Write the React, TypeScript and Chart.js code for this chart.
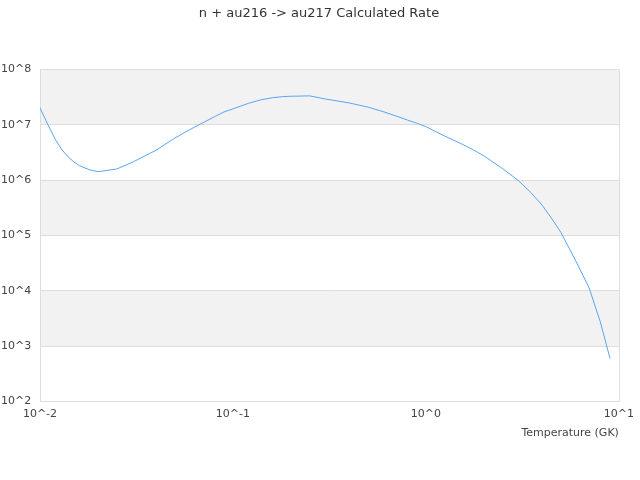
import React, { useEffect, useRef } from "react";
import { Chart, registerables } from "chart.js";

Chart.register(...registerables);

const chartTitle = "n + au216 -> au217 Calculated Rate";
const xAxisTitle = "Temperature (GK)";

const temperatures = [
  0.01, 0.011, 0.012, 0.013, 0.014, 0.015, 0.016, 0.018, 0.02, 0.025, 0.03, 0.04,
  0.05, 0.06, 0.07, 0.08, 0.09, 0.1, 0.12, 0.14, 0.16, 0.18, 0.2, 0.25, 0.3, 0.4,
  0.5, 0.6, 0.7, 0.8, 0.9, 1.0, 1.25, 1.5, 1.75, 2.0, 2.5, 3.0, 3.5, 4.0, 4.5, 5.0,
  6.0, 7.0, 8.0, 9.0,
];

const rates = [
  2.04e7, 1.0e7, 5.5e6, 3.55e6, 2.63e6, 2.14e6, 1.84e6, 1.55e6, 1.43e6, 1.6e6, 2.1e6, 3.5e6,
  5.8e6, 8.3e6, 1.1e7, 1.4e7, 1.72e7, 1.95e7, 2.45e7, 2.85e7, 3.1e7, 3.24e7, 3.3e7, 3.35e7, 2.95e7, 2.5e7,
  2.1e7, 1.74e7, 1.45e7, 1.23e7, 1.07e7, 9.3e6, 6.3e6, 4.7e6, 3.6e6, 2.75e6, 1.62e6, 1.0e6, 6.0e5, 3.55e5, 2.0e5, 1.15e5,
  3.4e4, 1.15e4, 2.8e3, 6.0e2,
];

const xTickValues = [0.01, 0.1, 1, 10];
const xTickLabels = ["10^-2", "10^-1", "10^0", "10^1"];
const yTickValues = [1e2, 1e3, 1e4, 1e5, 1e6, 1e7, 1e8];
const yTickLabels = ["10^2", "10^3", "10^4", "10^5", "10^6", "10^7", "10^8"];

const FONT = "'DejaVu Sans', sans-serif";

const bandsPlugin = {
  id: "bands",
  beforeDraw(chart: any) {
    const { ctx, chartArea, scales } = chart;
    const y = scales.y;
    ctx.save();
    for (let i = 0; i < yTickValues.length - 1; i++) {
      if (i % 2 === 1) {
        const top = y.getPixelForValue(yTickValues[i + 1]);
        const bottom = y.getPixelForValue(yTickValues[i]);
        ctx.fillStyle = "#f2f2f2";
        ctx.fillRect(chartArea.left, top, chartArea.right - chartArea.left, bottom - top);
      }
    }
    ctx.strokeStyle = "#dddddd";
    ctx.lineWidth = 1;
    ctx.beginPath();
    ctx.moveTo(Math.round(chartArea.right) + 0.5, chartArea.top);
    ctx.lineTo(Math.round(chartArea.right) + 0.5, chartArea.bottom);
    ctx.stroke();
    ctx.restore();
  },
  afterDraw(chart: any) {
    const { ctx } = chart;
    const tb = chart.titleBlock;
    const top = tb ? tb.top : 0;
    ctx.save();
    ctx.fillStyle = "#333333";
    ctx.font = `normal 13px ${FONT}`;
    ctx.textAlign = "center";
    ctx.textBaseline = "middle";
    ctx.fillText(chartTitle, chart.width / 2 - 1, top + 6 + 7.8);
    ctx.restore();
  },
};

export default function App() {
  const canvasRef = useRef<HTMLCanvasElement | null>(null);

  useEffect(() => {
    if (!canvasRef.current) return;
    const chart = new Chart(canvasRef.current, {
      type: "line",
      data: {
        datasets: [
          {
            label: "rate",
            data: temperatures.map((t, i) => ({ x: t, y: rates[i] })),
            borderColor: "rgb(90,165,240)",
            backgroundColor: "rgb(90,165,240)",
            borderWidth: 1,
            pointRadius: 0,
            tension: 0,
            fill: false,
          },
        ],
      },
      options: {
        animation: false,
        responsive: false,
        maintainAspectRatio: false,
        layout: { padding: { left: 1, right: 20, top: 0, bottom: 40 } },
        plugins: {
          legend: { display: false },
          tooltip: { enabled: false },
          title: {
            display: true,
            text: chartTitle,
            color: "rgba(0,0,0,0)",
            font: { family: FONT, size: 13, weight: "normal" },
            padding: { top: 6, bottom: 48 },
          },
        },
        scales: {
          x: {
            type: "logarithmic",
            min: 0.01,
            max: 10,
            afterBuildTicks: (s: any) => {
              s.ticks = xTickValues.map((v) => ({ value: v }));
            },
            ticks: {
              autoSkip: false,
              maxRotation: 0,
              padding: 6,
              color: "#444444",
              font: { family: FONT, size: 11 },
              callback: (v: any) => {
                const i = xTickValues.findIndex((t) => Math.abs(t - Number(v)) < 1e-9 * t);
                return i >= 0 ? xTickLabels[i] : "";
              },
            },
            grid: { display: false, drawTicks: false },
            border: { display: true, color: "#dddddd" },
            title: {
              display: true,
              text: xAxisTitle,
              align: "end",
              color: "#444444",
              font: { family: FONT, size: 11 },
              padding: { top: 0, bottom: 0 },
            },
          },
          y: {
            type: "logarithmic",
            min: 1e2,
            max: 1e8,
            afterBuildTicks: (s: any) => {
              s.ticks = yTickValues.map((v) => ({ value: v }));
            },
            afterFit: (s: any) => {
              s.width = 39;
            },
            ticks: {
              autoSkip: false,
              crossAlign: "far",
              color: "#444444",
              font: { family: FONT, size: 11 },
              callback: (v: any) => {
                const i = yTickValues.findIndex((t) => Math.abs(t - Number(v)) < 1e-9 * t);
                return i >= 0 ? yTickLabels[i] : "";
              },
            },
            grid: { color: "#dddddd", drawTicks: false },
            border: { display: true, color: "#dddddd" },
          },
        },
      },
      plugins: [bandsPlugin],
    } as any);
    return () => chart.destroy();
  }, []);

  return (
    <div style={{ position: "fixed", left: 0, top: 0, width: 640, height: 480, background: "#ffffff" }}>
      <canvas ref={canvasRef} width={640} height={480} style={{ width: 640, height: 480 }} />
    </div>
  );
}
